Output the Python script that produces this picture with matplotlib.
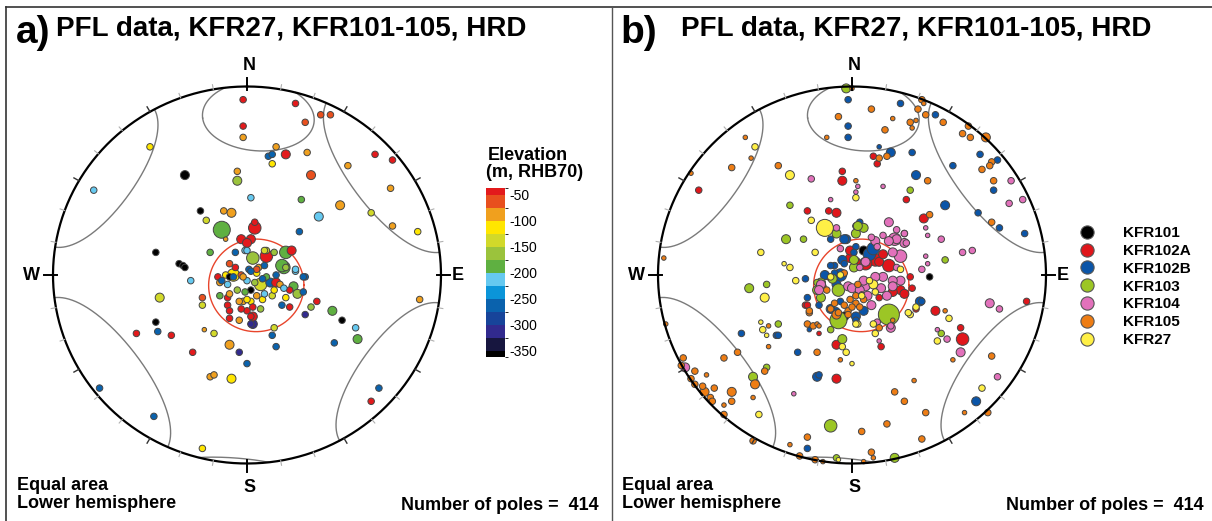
import numpy as np
import matplotlib.pyplot as plt
from matplotlib.colors import ListedColormap, BoundaryNorm
from matplotlib.lines import Line2D
import matplotlib.cm as cm

plt.rcParams['font.family'] = ['Liberation Sans', 'DejaVu Sans']
plt.rcParams['axes.unicode_minus'] = False

W, H = 1212, 521

# poles as (east, north) in net radius units, lower hemisphere equal area
# panel a: east, north, elevation (m RHB70), marker size class
poles_elev = [
    (-0.02, 0.93, -45, 1), (0.25, 0.91, -45, 1), (-0.02, 0.79, -45, 1),
    (-0.02, 0.73, -90, 1), (0.30, 0.81, -60, 1), (0.38, 0.85, -60, 1),
    (0.43, 0.85, -60, 1), (0.15, 0.68, -90, 1), (0.20, 0.64, -45, 2),
    (0.31, 0.65, -90, 1), (0.11, 0.63, -255, 1), (0.13, 0.64, -265, 1),
    (0.13, 0.59, -110, 1), (-0.50, 0.68, -110, 1), (-0.32, 0.53, -355, 2),
    (-0.05, 0.55, -90, 1), (-0.05, 0.50, -160, 2), (0.33, 0.53, -60, 2),
    (0.66, 0.64, -45, 1), (0.75, 0.61, -45, 1), (0.52, 0.58, -90, 1),
    (0.74, 0.46, -90, 1), (-0.79, 0.45, -210, 1), (0.02, 0.41, -210, 1),
    (0.28, 0.40, -180, 1), (0.48, 0.37, -90, 2), (0.37, 0.31, -210, 2),
    (0.64, 0.33, -135, 1), (0.75, 0.26, -90, 1), (0.88, 0.23, -110, 1),
    (-0.24, 0.34, -355, 1), (-0.12, 0.34, -90, 1), (-0.08, 0.33, -90, 2),
    (-0.21, 0.29, -140, 1), (-0.13, 0.24, -180, 4), (-0.11, 0.19, -90, 0),
    (0.04, 0.28, -45, 1), (0.04, 0.25, -45, 3), (0.27, 0.23, -255, 1),
    (-0.03, 0.19, -45, 2), (0.02, 0.19, -45, 2), (0.00, 0.17, -45, 2),
    (-0.01, 0.13, -210, 1), (-0.06, 0.12, -255, 1), (-0.19, 0.12, -180, 1),
    (-0.47, 0.12, -355, 1), (-0.35, 0.06, -355, 1), (-0.33, 0.05, -355, 1),
    (-0.32, 0.04, -355, 1), (-0.29, -0.03, -210, 1), (-0.45, -0.12, -140, 2),
    (-0.23, -0.12, -60, 1), (-0.23, -0.16, -135, 1), (-0.47, -0.25, -355, 1),
    (-0.57, -0.31, -45, 1), (-0.46, -0.30, -255, 1), (-0.39, -0.32, -45, 1),
    (-0.22, -0.29, -90, 0), (-0.17, -0.31, -135, 1), (-0.28, -0.41, -45, 1),
    (-0.09, -0.37, -90, 2), (-0.04, -0.41, -310, 1), (0.00, -0.47, -255, 1),
    (-0.19, -0.54, -90, 1), (-0.17, -0.53, -90, 1), (-0.08, -0.55, -110, 2),
    (0.15, -0.38, -255, 1), (0.13, -0.32, -265, 1), (0.14, -0.28, -140, 1),
    (0.23, 0.13, -45, 2), (0.20, 0.12, -180, 3), (0.19, 0.04, -180, 3),
    (0.03, 0.09, -160, 3), (0.10, 0.10, -45, 3), (0.10, 0.13, -135, 1),
    (0.30, -0.01, -255, 1), (0.25, 0.02, -210, 1), (0.36, -0.14, -45, 1),
    (0.33, -0.17, -160, 1), (0.30, -0.21, -310, 1), (0.44, -0.19, -180, 2),
    (0.49, -0.24, -355, 1), (0.56, -0.28, -210, 1), (0.57, -0.34, -180, 2),
    (0.45, -0.36, -265, 1), (0.89, -0.13, -90, 1), (0.68, -0.60, -255, 1),
    (0.64, -0.67, -45, 1), (-0.76, -0.60, -255, 1), (-0.48, -0.75, -255, 1),
    (-0.23, -0.92, -110, 1),
    (0.09, 0.13, -140, 1), (0.14, 0.12, -160, 1), (0.18, 0.05, -180, 3),
    (-0.09, 0.06, -60, 1), (-0.06, 0.04, -45, 1), (0.01, 0.03, -255, 1),
    (0.06, 0.04, -90, 1), (0.09, 0.05, -255, 1), (-0.15, -0.01, -45, 1),
    (-0.11, 0.00, -110, 1), (-0.07, 0.00, -110, 3), (-0.09, -0.01, -355, 1),
    (-0.03, 0.00, -60, 1), (0.00, -0.03, -210, 1), (0.04, -0.04, -160, 1),
    (0.07, -0.05, -140, 3), (0.12, -0.04, -265, 2), (0.02, -0.08, -355, 1),
    (-0.01, -0.09, -180, 1), (-0.05, -0.08, -160, 1), (-0.14, -0.04, -90, 1),
    (-0.10, -0.05, -210, 1), (-0.14, -0.11, -180, 1), (-0.10, -0.12, -45, 1),
    (-0.10, -0.16, -45, 1), (-0.09, -0.19, -45, 1), (-0.09, -0.23, -45, 1),
    (-0.04, -0.24, -90, 1), (0.03, -0.26, -310, 2), (0.03, -0.22, -45, 2),
    (0.00, -0.19, -45, 1), (-0.02, -0.14, -90, 1), (0.02, -0.14, -110, 1),
    (0.08, -0.13, -110, 1), (0.05, -0.11, -90, 1), (0.09, -0.10, -210, 1),
    (0.13, -0.11, -140, 1), (0.14, -0.08, -110, 1), (0.17, -0.05, -90, 1),
    (0.20, 0.04, -160, 1), (0.15, 0.00, -255, 1), (0.10, -0.01, -180, 1),
    (0.05, 0.01, -110, 1), (0.25, 0.03, -210, 1), (0.29, -0.01, -255, 1),
    (0.24, -0.06, -180, 2), (0.26, -0.10, -160, 2), (0.29, -0.09, -255, 1),
    (0.22, -0.08, -45, 1), (0.19, -0.07, -210, 1), (0.20, -0.12, -110, 1),
    (0.18, -0.16, -255, 1), (0.22, -0.17, -45, 1), (0.15, -0.04, -45, 2),
    (0.07, -0.18, -160, 1), (0.03, -0.17, -45, 1), (0.00, -0.13, -110, 1),
    (-0.04, -0.14, -90, 1), (-0.03, -0.18, -45, 1), (0.02, -0.22, -45, 1),
    (-0.09, -0.10, -90, 1), (-0.07, -0.01, -255, 1), (-0.13, -0.03, -255, 1),
    (-0.02, -0.01, -90, 1), (0.05, 0.03, -60, 1), (0.02, 0.02, -255, 1),
    (0.08, -0.02, -255, 1), (0.00, 0.13, -210, 1), (0.02, -0.26, -310, 1),
]

# panel b: east, north, marker size class, one list per borehole
kfr101 = [(0.40, -0.01, 1), (0.06, 0.13, 2), (-0.04, -0.22, 2)]
kfr102a = [
    (0.11, 0.63, 1), (0.13, 0.59, 1), (0.28, 0.40, 1), (0.37, 0.30, 2),
    (-0.79, 0.45, 1), (-0.05, 0.55, 1), (-0.05, 0.50, 2), (-0.23, 0.34, 1),
    (-0.12, 0.34, 1), (-0.08, 0.33, 2), (-0.24, -0.16, 1), (-0.17, -0.31, 0),
    (-0.08, -0.37, 2), (-0.08, -0.55, 2), (0.57, -0.34, 3), (0.56, -0.28, 1),
    (0.43, -0.19, 2), (0.90, -0.14, 1), (0.30, -0.01, 1), (0.15, -0.38, 1),
    (0.00, 0.12, 2), (0.14, 0.07, 2), (0.02, 0.07, 2), (-0.01, 0.09, 2),
    (0.27, 0.22, 1), (0.16, 0.11, 2), (0.12, 0.08, 3), (0.19, 0.05, 3),
    (0.25, -0.08, 2), (0.27, -0.10, 2), (0.21, -0.09, 2), (0.14, -0.12, 1),
    (0.33, -0.18, 1), (-0.01, 0.13, 2), (0.07, 0.06, 3), (-0.12, -0.01, 1),
    (-0.15, -0.06, 1), (0.31, -0.07, 1), (-0.23, -0.16, 1),
]
kfr102b = [
    (-0.02, 0.93, 1), (-0.02, 0.79, 1), (-0.02, 0.73, 1), (0.25, 0.91, 1),
    (0.43, 0.85, 1), (0.14, 0.68, 0), (0.20, 0.65, 2), (0.31, 0.65, 1),
    (0.66, 0.64, 1), (0.75, 0.61, 1), (0.73, 0.45, 1), (0.65, 0.33, 1),
    (0.76, 0.25, 1), (0.89, 0.22, 1), (0.52, 0.58, 1), (0.33, 0.53, 2),
    (0.48, 0.37, 2), (-0.23, -0.12, 1), (-0.22, -0.29, 0), (-0.39, -0.32, 1),
    (-0.57, -0.31, 1), (-0.28, -0.41, 1), (-0.18, -0.54, 2), (-0.17, -0.53, 1),
    (-0.23, -0.92, 1), (0.64, -0.67, 2), (0.36, -0.14, 1), (-0.11, 0.19, 1),
    (0.02, 0.26, 1), (-0.03, 0.19, 2), (0.02, 0.15, 1), (0.09, 0.11, 3),
    (-0.04, 0.06, 1), (-0.09, 0.05, 1), (-0.14, 0.00, 2), (-0.08, -0.05, 2),
    (-0.06, -0.14, 1), (-0.17, -0.16, 1), (0.02, -0.22, 2), (0.06, -0.19, 2),
    (-0.38, -0.32, 1), (0.01, 0.12, 1), (0.04, 0.28, 1), (0.11, 0.14, 3),
    (-0.05, 0.08, 2), (-0.06, 0.00, 3), (-0.24, -0.02, 1), (0.35, -0.14, 2),
    (-0.04, 0.19, 2), (-0.11, 0.05, 1), (-0.09, 0.01, 1), (-0.11, -0.18, 2),
    (-0.08, -0.19, 1), (0.02, -0.24, 1),
]
kfr103 = [
    (-0.03, 0.99, 2), (0.30, 0.45, 1), (-0.32, 0.37, 1), (-0.34, 0.19, 2),
    (-0.25, 0.19, 1), (-0.53, -0.07, 2), (-0.44, -0.05, 1), (-0.38, -0.26, 1),
    (-0.05, -0.34, 2), (-0.44, -0.49, 1), (-0.51, -0.54, 2), (-0.08, -0.97, 1),
    (-0.11, -0.80, 3), (0.22, -0.97, 2), (0.46, -0.31, 1), (0.48, 0.08, 1),
    (0.19, -0.21, 5), (-0.07, -0.24, 4), (0.06, 0.25, 2), (0.02, 0.22, 2),
    (0.01, 0.04, 2), (-0.10, -0.02, 2), (-0.18, -0.04, 1), (-0.07, -0.08, 3),
    (-0.16, -0.04, 2), (-0.18, -0.08, 2), (-0.16, -0.12, 2), (0.01, 0.08, 2),
    (-0.08, 0.22, 2), (-0.11, -0.29, 1), (0.03, 0.26, 2),
]
kfr104 = [
    (0.82, 0.50, 1), (0.81, 0.38, 1), (0.88, 0.40, 1), (0.16, 0.47, 0),
    (-0.21, 0.51, 1), (0.03, 0.47, 0), (0.02, 0.44, 0), (-0.11, 0.40, 0),
    (-0.08, 0.25, 1), (-0.30, -0.63, 0), (-0.86, -0.49, 2), (0.75, -0.54, 1),
    (0.56, -0.41, 2), (0.49, -0.34, 1), (0.44, -0.29, 0), (0.71, -0.15, 2),
    (0.76, -0.18, 1), (0.57, 0.12, 1), (0.62, 0.13, 1), (0.36, 0.03, 1),
    (0.39, 0.06, 0), (0.38, 0.10, 0), (0.46, 0.19, 1), (0.39, 0.21, 0),
    (0.38, 0.25, 0), (0.28, 0.17, 1), (0.27, 0.22, 1), (0.19, 0.28, 2),
    (0.22, 0.19, 3), (0.14, -0.35, 0), (0.20, -0.28, 2), (0.10, 0.20, 1),
    (0.13, 0.15, 1), (0.07, 0.07, 2), (-0.16, -0.05, 2), (-0.17, -0.08, 2),
    (-0.02, -0.06, 2), (0.07, -0.06, 2), (0.08, -0.11, 2), (0.10, -0.16, 2),
    (0.13, -0.25, 1), (0.23, 0.24, 1), (0.27, 0.17, 2), (0.23, 0.19, 2),
    (0.19, 0.18, 2), (0.16, 0.21, 1), (0.12, 0.18, 2), (0.25, 0.10, 3),
    (0.21, 0.12, 2), (0.23, 0.04, 1), (0.25, -0.03, 2), (0.21, -0.03, 2),
    (0.21, -0.06, 2), (0.16, -0.01, 2), (0.12, -0.01, 2), (0.15, -0.07, 2),
    (0.18, -0.11, 2), (0.20, -0.27, 1), (0.04, 0.04, 1), (0.00, -0.07, 2),
    (0.04, -0.08, 2), (0.06, -0.03, 2), (-0.06, 0.14, 1),
]
kfr105 = [
    (0.00, 0.99, 0), (0.10, 0.88, 1), (-0.07, 0.84, 1), (-0.13, 0.73, 0),
    (0.21, 0.83, 0), (0.17, 0.77, 1), (0.30, 0.81, 1), (0.31, 0.78, 0),
    (0.33, 0.82, 0), (0.34, 0.88, 1), (0.36, 0.93, 1), (0.37, 0.91, 0),
    (0.38, 0.85, 1), (0.47, 0.81, 1), (0.18, 0.63, 1), (0.14, 0.62, 1),
    (0.60, 0.79, 1), (0.57, 0.75, 1), (0.61, 0.73, 1), (0.69, 0.73, 2),
    (0.72, 0.60, 1), (0.71, 0.58, 1), (0.67, 0.56, 1), (0.73, 0.50, 1),
    (0.72, 0.28, 1), (0.39, 0.50, 1), (0.40, 0.32, 1), (-0.55, 0.73, 0),
    (-0.52, 0.62, 0), (-0.62, 0.57, 1), (-0.83, 0.54, 0), (-0.38, 0.58, 1),
    (0.02, 0.50, 0), (-0.97, 0.09, 0), (-0.22, -0.20, 1), (-0.18, -0.26, 0),
    (-0.43, -0.27, 0), (-0.43, -0.38, 0), (-0.59, -0.41, 1), (-0.66, -0.44, 1),
    (-0.18, -0.41, 1), (-0.06, -0.45, 0), (-0.45, -0.51, 1), (-0.50, -0.58, 2),
    (-0.51, -0.65, 0), (-0.62, -0.62, 2), (-0.62, -0.67, 1), (-0.66, -0.69, 0),
    (-0.66, -0.74, 1), (-0.87, -0.44, 1), (-0.88, -0.48, 1), (-0.81, -0.51, 1),
    (-0.75, -0.53, 0), (-0.83, -0.55, 1), (-0.81, -0.58, 1), (-0.77, -0.59, 1),
    (-0.71, -0.60, 1), (-0.76, -0.62, 2), (-0.73, -0.65, 1), (-0.72, -0.67, 1),
    (-0.96, -0.26, 0), (-0.51, -0.88, 1), (-0.32, -0.90, 0), (-0.23, -0.86, 1),
    (-0.27, -0.96, 1), (-0.19, -0.98, 1), (-0.15, -0.99, 0), (0.05, -0.83, 1),
    (0.06, -0.99, 0), (0.10, -0.94, 1), (0.11, -0.97, 0), (0.18, -0.79, 1),
    (0.36, -0.87, 1), (0.38, -0.73, 1), (0.27, -0.67, 1), (0.22, -0.62, 1),
    (0.32, -0.56, 0), (0.58, -0.73, 0), (0.70, -0.73, 1), (0.72, -0.43, 1),
    (0.52, -0.45, 0), (0.48, -0.19, 0), (0.14, -0.28, 1), (0.21, -0.24, 0),
    (-0.07, -0.20, 1), (-0.04, 0.01, 1), (-0.13, -0.08, 1), (0.03, -0.05, 1),
    (0.05, -0.10, 0), (0.02, -0.11, 1), (-0.01, -0.13, 1), (0.02, -0.15, 1),
    (0.04, -0.17, 1), (-0.02, -0.19, 1), (-0.04, -0.16, 1), (-0.09, -0.15, 1),
    (-0.11, -0.18, 1), (-0.22, -0.19, 1), (-0.08, -0.21, 2), (-0.23, -0.26, 1),
    (-0.17, -0.27, 0), (-0.20, -0.27, 1), (-0.02, -0.21, 1), (0.06, -0.13, 1),
    (0.00, -0.17, 1),
]
kfr27 = [
    (-0.50, 0.68, 1), (-0.32, 0.53, 2), (0.02, 0.41, 1), (-0.21, 0.29, 1),
    (-0.14, 0.25, 4), (-0.19, 0.12, 1), (-0.47, 0.12, 1), (-0.35, 0.06, 0),
    (-0.32, 0.04, 1), (-0.29, -0.03, 1), (-0.45, -0.12, 2), (-0.47, -0.25, 0),
    (-0.46, -0.29, 1), (-0.44, -0.32, 0), (-0.03, -0.41, 1), (0.00, -0.47, 0),
    (-0.48, -0.74, 1), (-0.07, -0.98, 0), (0.67, -0.60, 1), (0.44, -0.35, 1),
    (0.50, -0.23, 1), (0.33, -0.17, 1), (0.30, -0.21, 1), (0.11, -0.26, 1),
    (0.03, -0.26, 1), (-0.06, 0.00, 1), (-0.11, -0.01, 1), (0.11, -0.05, 2),
    (0.12, -0.09, 1), (0.02, -0.26, 1), (0.12, -0.31, 1), (0.25, 0.03, 1),
    (0.09, -0.03, 1), (0.05, -0.11, 1), (0.29, -0.20, 1), (-0.05, -0.38, 1),
]

hole_names = ['KFR101', 'KFR102A', 'KFR102B', 'KFR103', 'KFR104', 'KFR105', 'KFR27']
hole_poles = [kfr101, kfr102a, kfr102b, kfr103, kfr104, kfr105, kfr27]
hole_colors = ['#000000', '#e0161b', '#0b55a8', '#9cc625', '#e271bb', '#ee7d14', '#fff046']

# elevation classes, deepest first
elev_bounds = [-362, -350, -325, -300, -275, -250, -225, -200, -175, -150,
               -125, -100, -75, -50, -37]
elev_colors = ['#000000', '#17163f', '#312a8e', '#17449a', '#0a62ad', '#0b95d9',
               '#66c9f0', '#5fb041', '#9bc33c', '#d2d92a', '#ffe600', '#f0a01e',
               '#e8501e', '#e31a1c']
elev_ticks = [-50, -100, -150, -200, -250, -300, -350]

# cones drawn on each net: trend, plunge, half apical angle (deg)
grey_cones = [(4, 15.6, 18.7), (305, 0, 26.5), (53.6, 0, 29.5)]
red_cone = (139, 84, 20)

size_px = {0: 4.5, 1: 6.5, 2: 9, 3: 12.5, 4: 17, 5: 21}
edge = '#454545'


def px(x, y):
    return x / W, 1 - y / H


def small_circle(trend, plunge, half, n=1441):
    t, p, a = np.radians([trend, plunge, half])
    axis = np.array([np.cos(p) * np.cos(t), np.cos(p) * np.sin(t), np.sin(p)])
    ref = np.array([0, 0, 1.0]) if abs(axis[2]) < 0.9 else np.array([1.0, 0, 0])
    u = np.cross(axis, ref)
    u /= np.linalg.norm(u)
    w = np.cross(axis, u)
    phi = np.linspace(0, 2 * np.pi, n)
    v = np.cos(a) * axis[:, None] + np.sin(a) * (np.outer(u, np.cos(phi)) + np.outer(w, np.sin(phi)))
    upper = v[2] < 0
    v[:, upper] *= -1
    r = np.sqrt(2) * np.sin(np.arccos(np.clip(v[2], -1, 1)) / 2)
    az = np.arctan2(v[1], v[0])
    x, y = r * np.sin(az), r * np.cos(az)
    cut = np.where(np.diff(upper.astype(int)) != 0)[0] + 1
    return np.insert(x, cut, np.nan), np.insert(y, cut, np.nan)


def net_axes(fig, cx, cy, rx=194, ry=188.5, pad=1.12):
    x0, y0 = px(cx - rx * pad, cy + ry * pad)
    ax = fig.add_axes([x0, y0, 2 * rx * pad / W, 2 * ry * pad / H])
    ax.set_xlim(-pad, pad)
    ax.set_ylim(-pad, pad)
    ax.axis('off')
    t = np.linspace(0, 2 * np.pi, 500)
    ax.plot(np.sin(t), np.cos(t), color='black', lw=1.6, zorder=6)
    for deg in range(0, 360, 10):
        a = np.radians(deg)
        if deg % 90 == 0:
            r0, r1, c, lw = 0.98, 1.045, 'black', 1.4
        elif deg % 30 == 0:
            r0, r1, c, lw = 1.0, 1.03, '#333333', 1.0
        else:
            r0, r1, c, lw = 1.0, 1.025, '#b0b0b0', 0.8
        ax.plot([r0 * np.sin(a), r1 * np.sin(a)], [r0 * np.cos(a), r1 * np.cos(a)],
                color=c, lw=lw, zorder=6)
    for cone in grey_cones:
        x, y = small_circle(*cone)
        ax.plot(x, y, color='#7a7a7a', lw=1.0, zorder=1)
    x, y = small_circle(*red_cone)
    ax.plot(x, y, color='#e8452c', lw=1.0, zorder=1)

    fig.text(*px(cx + 2.5, 66), 'N', fontsize=13, weight='bold', ha='center', va='center')
    fig.text(*px(cx + 2.5, 488), 'S', fontsize=13, weight='bold', ha='center', va='center')
    fig.text(*px(cx - 216, 275), 'W', fontsize=13, weight='bold', ha='center', va='center')
    fig.text(*px(cx + 211, 275), 'E', fontsize=13, weight='bold', ha='center', va='center')
    return ax


def marker_area(cls):
    return (np.array([size_px[c] for c in cls]) * 0.72) ** 2


fig = plt.figure(figsize=(W / 100, H / 100), dpi=100)

# panel frame lines
fig.add_artist(Line2D([6 / W, 1], [1 - 7 / H] * 2, color='#333333', lw=1.2))
fig.add_artist(Line2D([6 / W] * 2, [0, 1 - 7 / H], color='#333333', lw=1.2))
fig.add_artist(Line2D([612 / W] * 2, [0, 1 - 7 / H], color='#555555', lw=1.0))

# ---- a) coloured by elevation
cmap = ListedColormap(elev_colors)
norm = BoundaryNorm(elev_bounds, cmap.N)

ax_a = net_axes(fig, 247, 275)
pa = sorted(poles_elev, key=lambda p: -p[3])
ax_a.scatter([p[0] for p in pa], [p[1] for p in pa], c=[p[2] for p in pa],
             s=marker_area([p[3] for p in pa]), cmap=cmap, norm=norm,
             edgecolors=edge, linewidths=0.7, zorder=3)

fig.text(*px(16, 43), 'a)', fontsize=28, weight='bold', va='baseline')
fig.text(*px(56, 36), 'PFL data, KFR27, KFR101-105, HRD', fontsize=20,
         weight='bold', va='baseline')
fig.text(*px(17, 490), 'Equal area', fontsize=13, weight='bold', va='baseline')
fig.text(*px(17, 508), 'Lower hemisphere', fontsize=13, weight='bold', va='baseline')
fig.text(*px(599, 510), 'Number of poles =  414', fontsize=13, weight='bold',
         va='baseline', ha='right')

cax = fig.add_axes([486 / W, 1 - 357 / H, 19 / W, 169 / H])
cb = fig.colorbar(cm.ScalarMappable(norm=norm, cmap=cmap), cax=cax,
                  spacing='proportional', ticks=elev_ticks)
cb.outline.set_visible(False)
cb.set_ticklabels([str(v) for v in elev_ticks])
cax.tick_params(length=0, labelsize=10, pad=3)
fig.text(*px(488, 160), 'Elevation', fontsize=13, weight='bold', va='baseline')
fig.text(*px(486, 177), '(m, RHB70)', fontsize=13, weight='bold', va='baseline')

# ---- b) coloured by borehole
ax_b = net_axes(fig, 852, 275)
for poles, col in zip(hole_poles, hole_colors):
    ps = sorted(poles, key=lambda p: -p[2])
    ax_b.scatter([p[0] for p in ps], [p[1] for p in ps], s=marker_area([p[2] for p in ps]),
                 color=col, edgecolors=edge, linewidths=0.7, zorder=3)

handles = [Line2D([], [], ls='', marker='o', markersize=9.5, markerfacecolor=c,
                  markeredgecolor='#555555', markeredgewidth=0.8) for c in hole_colors]
fig.legend(handles, hole_names, loc='center left', bbox_to_anchor=px(1079, 286.5),
           frameon=False, borderpad=0, borderaxespad=0, handlelength=1.0,
           handletextpad=1.9, labelspacing=0.25, prop={'size': 11, 'weight': 'bold'})

fig.text(*px(620, 43), 'b)', fontsize=28, weight='bold', va='baseline')
fig.text(*px(681, 36), 'PFL data, KFR27, KFR101-105, HRD', fontsize=20,
         weight='bold', va='baseline')
fig.text(*px(622, 490), 'Equal area', fontsize=13, weight='bold', va='baseline')
fig.text(*px(622, 508), 'Lower hemisphere', fontsize=13, weight='bold', va='baseline')
fig.text(*px(1204, 510), 'Number of poles =  414', fontsize=13, weight='bold',
         va='baseline', ha='right')

fig.savefig('out.png', dpi=100)
